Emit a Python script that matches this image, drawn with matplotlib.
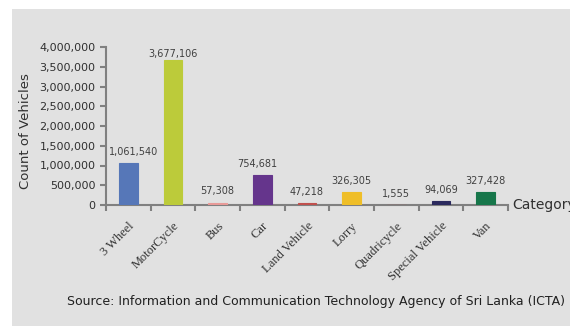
import numpy as np
import matplotlib.pyplot as plt
from matplotlib.patches import Rectangle
from matplotlib.ticker import FuncFormatter

categories = ['3 Wheel', 'MotorCycle', 'Bus', 'Car', 'Land Vehicle', 'Lorry',
              'Quadricycle', 'Special Vehicle', 'Van']
counts = [1061540, 3677106, 57308, 754681, 47218, 326305, 1555, 94069, 327428]
colors = ['#5677b8', '#bccb3a', '#e89a98', '#65358c', '#c0504d', '#efbe28',
          '#d9302c', '#2b2a5e', '#16764a']

fig = plt.figure(figsize=(5.7, 3.33), dpi=100)
fig.patch.set_facecolor('white')
fig.patches.append(Rectangle((12/570, 7/333), 1 - 12/570, 317/333,
                             transform=fig.transFigure, facecolor='#e1e1e1',
                             edgecolor='none', zorder=-10))

ax = fig.add_axes([106/570, 1 - 205/333, 402/570, 158/333])
ax.set_facecolor('none')

x = np.arange(len(categories))
ax.bar(x, counts, width=0.42, color=colors, edgecolor=colors, linewidth=0.8,
       zorder=3)
# small sideways nudges of a couple of labels, in points
nudge = {0: 4, 3: -4}
for i, (xi, v) in enumerate(zip(x, counts)):
    # labels get pushed down near the top of the plot area, like excel does
    ax.annotate(f'{v:,}', (xi, min(v + 160000, 3690000)),
                xytext=(nudge.get(i, 0), 0), textcoords='offset points',
                ha='center', va='bottom', fontsize=7, color='#404040',
                annotation_clip=False)

ax.set_xlim(-0.5, len(categories) - 0.5)
ax.set_ylim(0, 4000000)
ax.set_yticks(np.arange(0, 4000001, 500000))
ax.yaxis.set_major_formatter(FuncFormatter(lambda v, p: f'{int(v):,}'))
ax.set_xticks(np.arange(-0.5, len(categories), 1))
ax.set_xticklabels([])
ax.set_xticks(x, minor=True)
ax.set_xticklabels(categories, minor=True, rotation=45, ha='right',
                   rotation_mode='anchor', family='Liberation Serif',
                   fontsize=9, color='#303030')
ax.tick_params(axis='x', which='minor', length=0, pad=11)
ax.tick_params(axis='x', which='major', length=4, width=1.5, color='#808080')
ax.tick_params(axis='y', length=4, width=1.5, color='#808080',
               labelsize=8, labelcolor='#303030')

for s in ['top', 'right']:
    ax.spines[s].set_visible(False)
for s in ['left', 'bottom']:
    ax.spines[s].set_color('#808080')
    ax.spines[s].set_linewidth(1.5)

ax.set_ylabel('Count of Vehicles', fontsize=9.5, color='#303030')
ax.yaxis.set_label_coords(-0.183, 0.47)
fig.text(512/570, 1 - 205/333, 'Category', fontsize=10, color='#303030',
         va='center', ha='left')
fig.text(316/570, 1 - 302/333,
         'Source: Information and Communication Technology Agency of Sri Lanka (ICTA)',
         fontsize=9, color='#202020', ha='center', va='center')

fig.savefig('out.png', dpi=100, facecolor=fig.get_facecolor())
